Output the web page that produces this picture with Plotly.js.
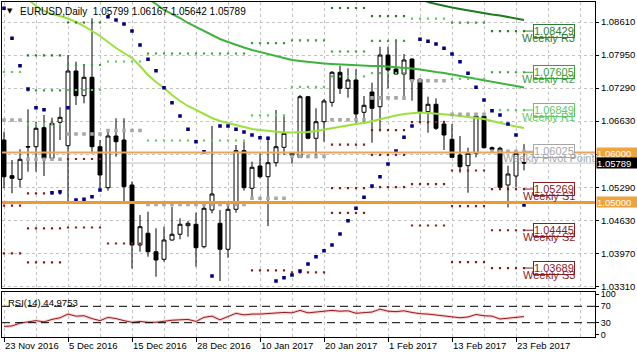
<!DOCTYPE html>
<html><head><meta charset="utf-8">
<script src="https://cdn.plot.ly/plotly-3.0.1.min.js"></script>
<style>html,body{margin:0;padding:0;background:#fff}#chart{width:637px;height:358px}</style>
</head><body><div id="chart"></div>
<script>
// ---- data ----
const dates = ['2016-11-23','2016-11-24','2016-11-25','2016-11-28','2016-11-29','2016-11-30','2016-12-01','2016-12-02',
'2016-12-05','2016-12-06','2016-12-07','2016-12-08','2016-12-09','2016-12-12','2016-12-13','2016-12-14','2016-12-15','2016-12-16',
'2016-12-19','2016-12-20','2016-12-21','2016-12-22','2016-12-23','2016-12-27','2016-12-28','2016-12-29','2016-12-30',
'2017-01-03','2017-01-04','2017-01-05','2017-01-06','2017-01-09','2017-01-10','2017-01-11','2017-01-12','2017-01-13',
'2017-01-16','2017-01-17','2017-01-18','2017-01-19','2017-01-20','2017-01-23','2017-01-24','2017-01-25','2017-01-26','2017-01-27',
'2017-01-30','2017-01-31','2017-02-01','2017-02-02','2017-02-03','2017-02-06','2017-02-07','2017-02-08','2017-02-09','2017-02-10',
'2017-02-13','2017-02-14','2017-02-15','2017-02-16','2017-02-17','2017-02-20','2017-02-21','2017-02-22','2017-02-23','2017-02-24'];

const openP = [1.0625,1.05536,1.05464,1.0612,1.06116,1.06496,1.05884,1.06604,1.06136,1.0763,1.07136,1.07504,1.06116,1.05296,1.0633,1.0625,1.0535,1.0415,1.04384,1.04016,1.03864,1.0425,1.04364,1.04536,1.04564,1.04116,1.0485,1.04584,1.04064,1.04864,1.06036,1.05284,1.0573,1.05516,1.05796,1.06104,1.05996,1.059,1.07116,1.06284,1.06616,1.07004,1.07604,1.07284,1.0745,1.06804,1.0721,1.06916,1.0795,1.0767,1.0757,1.0787,1.07464,1.06816,1.06964,1.0657,1.06264,1.0595,1.05736,1.05984,1.0673,1.06096,1.06084,1.0535,1.0553,1.05799];
const highP = [1.06416,1.0585,1.06064,1.06864,1.06616,1.0675,1.06696,1.06904,1.0795,1.07816,1.0775,1.08684,1.0625,1.06416,1.06684,1.06684,1.0542,1.0475,1.04816,1.04484,1.04516,1.04916,1.04684,1.0463,1.04796,1.04984,1.0653,1.0485,1.0495,1.0615,1.06216,1.05816,1.05984,1.06316,1.0685,1.0673,1.06,1.0715,1.0713,1.06884,1.0707,1.0763,1.07736,1.07684,1.07664,1.0713,1.07396,1.08116,1.08116,1.08264,1.0797,1.07884,1.07484,1.07116,1.07084,1.06636,1.0657,1.0633,1.06096,1.0675,1.06784,1.0612,1.06116,1.05736,1.0605,1.06167];
const lowP = [1.05284,1.05184,1.053,1.05616,1.05616,1.0553,1.05864,1.0625,1.05016,1.0695,1.06984,1.05984,1.05284,1.05236,1.05916,1.0497,1.0368,1.04016,1.03916,1.03516,1.03816,1.04236,1.04264,1.04316,1.03716,1.04084,1.04784,1.0343,1.03896,1.04796,1.05236,1.05084,1.05484,1.0453,1.05716,1.0595,1.05784,1.0593,1.06264,1.05884,1.06216,1.06916,1.0717,1.07096,1.06596,1.06596,1.06196,1.0645,1.07284,1.0755,1.0705,1.07036,1.06596,1.06396,1.0645,1.0605,1.0589,1.05596,1.05196,1.05904,1.06084,1.0603,1.05264,1.049,1.053,1.05642];
const closeP = [1.05516,1.05484,1.05864,1.0611,1.06484,1.05884,1.06584,1.06704,1.0763,1.07136,1.07504,1.06116,1.0555,1.0633,1.06216,1.05316,1.0415,1.04516,1.04016,1.0385,1.0425,1.04364,1.04564,1.04584,1.04096,1.04884,1.0517,1.04064,1.04864,1.06036,1.05296,1.05704,1.05516,1.05796,1.06116,1.06384,1.05944,1.07116,1.06284,1.06616,1.0703,1.07604,1.07284,1.0745,1.0677,1.06944,1.06884,1.0795,1.0765,1.0757,1.0785,1.0745,1.06816,1.06964,1.06484,1.0635,1.05904,1.05716,1.05984,1.0673,1.06096,1.06064,1.05304,1.0557,1.05984,1.05789];

// moving averages
const maFast = [null,null,1.0921,1.0907,1.0893,1.0883,1.0877,1.0873,1.0868,1.0861,1.0853,1.0843,1.0833,1.0821,1.0809,1.0799,1.0789,1.0773,1.0755,1.0741,1.0729,1.0715,1.0703,1.0693,1.0685,1.0677,1.0669,1.0663,1.0659,1.0655,1.0651,1.0647,1.0645,1.0643,1.0641,1.0640,1.0640,1.0640,1.0641,1.0643,1.0646,1.0649,1.0652,1.0655,1.0657,1.0659,1.0663,1.0667,1.0670,1.0674,1.0677,1.0679,1.0680,1.0679,1.0678,1.0676,1.0675,1.0673,1.0671,1.0670,1.0667,1.0663,1.0659,1.0655,1.0652,1.0649];
const maMid = [null,null,null,null,null,null,null,null,null,null,null,null,null,null,null,null,null,1.0917,1.0907,1.0897,1.0885,1.0877,1.0869,1.0859,1.0851,1.0843,1.0835,1.0827,1.0821,1.0815,1.0810,1.0805,1.0801,1.0797,1.0793,1.0788,1.0785,1.0783,1.0781,1.0779,1.0778,1.0777,1.0776,1.0775,1.0774,1.0773,1.0773,1.0773,1.0772,1.0771,1.0770,1.0768,1.0766,1.0763,1.0761,1.0759,1.0756,1.0753,1.0750,1.0747,1.0744,1.0741,1.0738,1.0735,1.0733,1.0730];
const maSlow = [null,null,null,null,null,null,null,null,null,null,null,null,null,null,null,null,null,null,null,null,null,null,null,null,null,null,null,null,null,null,null,null,null,null,null,null,null,null,null,null,null,null,null,null,null,null,null,null,null,null,null,1.0914,1.0908,1.0901,1.0897,1.0893,1.0890,1.0887,1.0884,1.0881,1.0879,1.0876,1.0874,1.0871,1.0868,1.0865];

// parabolic SAR
const sar = [1.08884,1.08284,1.07736,1.0727,1.06896,1.06856,1.05196,1.05216,1.06896,1.0505,1.05064,1.05116,1.0525,1.08716,1.0865,1.0857,1.0843,1.0815,1.07864,1.07636,1.07296,1.06996,1.0673,1.06464,1.06216,1.06016,1.0353,1.0653,1.0653,1.06464,1.0641,1.0635,1.06296,1.06284,1.0343,1.03496,1.0355,1.0363,1.0377,1.03916,1.04036,1.0415,1.0437,1.04636,1.04884,1.05104,1.0533,1.05516,1.0577,1.0603,1.06304,1.0653,1.08264,1.08224,1.0817,1.08084,1.0797,1.07816,1.07584,1.07304,1.0705,1.06836,1.0675,1.0657,1.0635,1.0495];

// weekly pivot levels
const weekStart = [0,3,8,13,18,31,36,41,46,51,56,61];
const weekEnd   = [2,7,12,17,30,35,40,45,50,55,60,65];
const pivR3 = [null,1.07944,1.0860,null,null,null,null,1.0889,1.08728,null,null,1.08429];
const pivR2 = [null,1.07244,1.0775,null,1.0798,1.08186,1.08242,1.0802,1.08232,null,1.08596,1.07605];
const pivR1 = [1.0761,1.06564,1.0725,1.0782,1.0624,1.06742,1.07314,1.07524,1.07588,1.08676,1.07474,1.06849];
const pivPP = [1.0665,1.05864,1.0637,1.0644,1.04962,1.05086,1.05922,1.06654,1.07092,1.07436,1.06762,1.06025];
const pivS1 = [1.04936,1.05184,1.0587,1.0418,null,1.03642,1.04994,1.06158,1.06448,1.06608,1.0564,1.05269];
const pivS2 = [1.03984,1.04484,1.04992,null,null,null,1.03602,1.05288,1.05952,1.05368,1.04928,1.04445];
const pivS3 = [null,1.03804,1.0450,null,null,null,null,1.04792,1.05308,1.0454,1.03806,1.03689];

// RSI(14)
const rsi = [21,22,29,32,35,32,38,42,51,46,47,40,35,43,40,35,31,33,31,31,34,36,37,38,33,43,46,37,45,53,49,51,51,52,54,55,54,60,54,56,58,60,58,59,53,55,56,63,58,57,59,55,52,51,49,46,44,42,44,50,47,46,39,41,43,44.9753];

// horizontal levels and axis ticks
const hLevels = [1.06000, 1.05000];
const priceTicks = [1.0331,1.0397,1.0463,1.0529,1.0596,1.0663,1.0729,1.0795,1.0861];
const tickIdx = [0,8,16,24,32,40,48,56,64];
const tickText = ['23 Nov 2016','5 Dec 2016','15 Dec 2016','28 Dec 2016','10 Jan 2017','20 Jan 2017','1 Feb 2017','13 Feb 2017','23 Feb 2017'];
const rsiTicks = [0,30,70,100];

// ---- build ----
const N = dates.length;
const xi = dates.map((d,i)=>i);
const FONT = 'Liberation Sans, Arial, sans-serif';
const GRID = '#c2c2c2';

const colR3='#2f7d34', colR2='#3aa03a', colR1='#62c862', colPP='#a6a6a6', colS='#8b1c1c';
const levels = [
  {name:'Weekly R3', v:pivR3, c:colR3, s:2.2},
  {name:'Weekly R2', v:pivR2, c:colR2, s:2.2},
  {name:'Weekly R1', v:pivR1, c:colR1, s:2.2},
  {name:'Weekly Pivot Point', v:pivPP, c:colPP, s:3.6},
  {name:'Weekly S1', v:pivS1, c:colS, s:2.2},
  {name:'Weekly S2', v:pivS2, c:colS, s:2.2},
  {name:'Weekly S3', v:pivS3, c:colS, s:2.2}
];

const traces = [];
traces.push({type:'candlestick', x:xi, open:openP, high:highP, low:lowP, close:closeP, xaxis:'x', yaxis:'y',
  increasing:{line:{color:'#000',width:1}, fillcolor:'#ffffff'},
  decreasing:{line:{color:'#000',width:1}, fillcolor:'#000000'},
  whiskerwidth:0, hoverinfo:'skip', showlegend:false});

traces.push({type:'scatter', mode:'lines', x:xi, y:maSlow, line:{color:'#1f7a1f', width:2}, xaxis:'x', yaxis:'y', hoverinfo:'skip'});
traces.push({type:'scatter', mode:'lines', x:xi, y:maMid, line:{color:'#3cb43c', width:2}, xaxis:'x', yaxis:'y', hoverinfo:'skip'});
traces.push({type:'scatter', mode:'lines', x:xi, y:maFast, line:{color:'#98e23a', width:2}, xaxis:'x', yaxis:'y', hoverinfo:'skip'});

levels.forEach(L=>{
  const y = new Array(N).fill(null);
  weekStart.forEach((s,w)=>{ if(L.v[w]!=null){ for(let i=s;i<=weekEnd[w];i++) y[i]=L.v[w]; } });
  traces.push({type:'scatter', mode:'markers', x:xi, y:y, marker:{symbol:'square', size:L.s, color:L.c, line:{width:0}},
    xaxis:'x', yaxis:'y', hoverinfo:'skip', cliponaxis:true});
});

traces.push({type:'scatter', mode:'markers', x:xi, y:sar, marker:{symbol:'square', size:3.6, color:'#000080', line:{width:0}},
  xaxis:'x', yaxis:'y', hoverinfo:'skip', cliponaxis:true});

// RSI
traces.push({type:'scatter', mode:'lines', x:xi, y:rsi, line:{color:'rgba(230,120,120,0.35)', width:3}, xaxis:'x2', yaxis:'y2', hoverinfo:'skip'});
traces.push({type:'scatter', mode:'lines', x:xi, y:rsi, line:{color:'#a01818', width:1}, xaxis:'x2', yaxis:'y2', hoverinfo:'skip'});

const last = N-1;
const shapes = [];
shapes.push({type:'line', xref:'paper', x0:0, x1:1, yref:'y', y0:closeP[last], y1:closeP[last], line:{color:'#c0c0c0', width:1}, layer:'below'});
shapes.push({type:'line', xref:'paper', x0:0, x1:1, yref:'y', y0:hLevels[0], y1:hLevels[0], line:{color:'#eaa55a', width:2}, layer:'above'});
shapes.push({type:'line', xref:'paper', x0:0, x1:1, yref:'y', y0:hLevels[1], y1:hLevels[1], line:{color:'#f3982a', width:3}, layer:'above'});
[70,30].forEach(v=>shapes.push({type:'line', xref:'paper', x0:0, x1:1, yref:'y2', y0:v, y1:v, line:{color:'#000', width:1, dash:'8px,5px'}, layer:'above'}));
const wN = weekStart.length-1;
levels.forEach(L=>{
  const v = L.v[wN];
  shapes.push({type:'line', xref:'x', x0:64.9, x1:66.4, yref:'y', y0:v, y1:v, line:{color:L.c, width:1}, layer:'above'});
});

const annotations = [];
annotations.push({xref:'paper', yref:'paper', x:0, y:1, xshift:3, yshift:-3, xanchor:'left', yanchor:'top', showarrow:false,
  text:'▼', font:{family:'DejaVu Sans', size:7, color:'#000'}});
annotations.push({xref:'paper', yref:'paper', x:0, y:1, xshift:16, yshift:-2, xanchor:'left', yanchor:'top', showarrow:false,
  text:'EURUSD,Daily  '+openP[last].toFixed(5)+' '+highP[last].toFixed(5)+' '+lowP[last].toFixed(5)+' '+closeP[last].toFixed(5),
  font:{family:FONT, size:10, color:'#000'}});
annotations.push({xref:'paper', yref:'y2 domain', x:0, y:1, xshift:4, yshift:-3, xanchor:'left', yanchor:'top', showarrow:false,
  text:'RSI(14) '+rsi[last].toFixed(4), font:{family:FONT, size:9.5, color:'#000'}});

levels.forEach(L=>{
  const v = L.v[wN];
  annotations.push({xref:'x', yref:'y', x:68.8, y:v, xanchor:'center', yanchor:'middle', showarrow:false,
    text:v.toFixed(5), font:{family:FONT, size:11, color:L.c}, bgcolor:'#ffffff', bordercolor:L.c, borderwidth:1, borderpad:0});
});
levels.forEach(L=>{
  const v = L.v[wN];
  annotations.push({xref:'x', yref:'y', x:68.1, y:v, yshift:-7, xanchor:'center', yanchor:'middle', showarrow:false,
    text:L.name, font:{family:FONT, size:11, color:L.c}});
});

const tag = (v, bg) => ({xref:'paper', yref:'y', x:1, y:v, xshift:1, xanchor:'left', yanchor:'middle', showarrow:false,
  text:v.toFixed(5), font:{family:FONT, size:9.5, color:'#fff'}, bgcolor:bg, borderpad:0, width:40, height:10, align:'left'});
annotations.push(tag(hLevels[0], '#f0a33c'));
annotations.push(tag(hLevels[1], '#f0a33c'));
annotations.push(tag(closeP[last], '#000000'));

// price tick labels hidden where a level tag covers them (as in the terminal)
const priceTickText = priceTicks.map(v => hLevels.some(h => Math.abs(h - v) < 0.0006) ? '' : v.toFixed(5));

const layout = {
  width:637, height:358,
  margin:{l:2, r:42, t:2, b:21, pad:0},
  paper_bgcolor:'#ffffff', plot_bgcolor:'#ffffff',
  showlegend:false, dragmode:false,
  font:{family:FONT, size:9.5, color:'#000'},
  xaxis:{domain:[0,1], anchor:'y', range:[-0.25,73.875], rangeslider:{visible:false},
    showticklabels:false, ticks:'', tickmode:'linear', tick0:0, dtick:4,
    showgrid:true, gridcolor:GRID, griddash:'3px,3px', gridwidth:1,
    showline:true, mirror:true, linecolor:'#000', linewidth:1, zeroline:false},
  yaxis:{domain:[0.1448,1], anchor:'x', side:'right', range:[1.0328,1.0901],
    tickmode:'array', tickvals:priceTicks, ticktext:priceTickText,
    ticks:'outside', ticklen:3, tickcolor:'#000', tickfont:{size:9.5},
    showgrid:true, gridcolor:GRID, griddash:'3px,3px', gridwidth:1,
    showline:true, mirror:true, linecolor:'#000', linewidth:1, zeroline:false},
  xaxis2:{domain:[0,1], anchor:'y2', matches:'x', rangeslider:{visible:false},
    tickmode:'array', tickvals:tickIdx, ticktext:tickText, ticklabelposition:'outside right',
    ticks:'outside', ticklen:4, tickcolor:'#000', tickfont:{size:9.5},
    showgrid:true, gridcolor:GRID, griddash:'3px,3px', gridwidth:1,
    minor:{tickmode:'linear', tick0:0, dtick:4, showgrid:true, gridcolor:GRID, griddash:'3px,3px', ticks:''},
    showline:true, mirror:true, linecolor:'#000', linewidth:1, zeroline:false},
  yaxis2:{domain:[0,0.1358], anchor:'x2', side:'right', range:[-4.9,106.1],
    tickmode:'array', tickvals:rsiTicks, ticks:'outside', ticklen:3, tickcolor:'#000', tickfont:{size:9},
    showgrid:false, showline:true, mirror:true, linecolor:'#000', linewidth:1, zeroline:false},
  shapes:shapes, annotations:annotations
};

Plotly.newPlot('chart', traces, layout, {staticPlot:true, displayModeBar:false});
</script>
</body></html>
